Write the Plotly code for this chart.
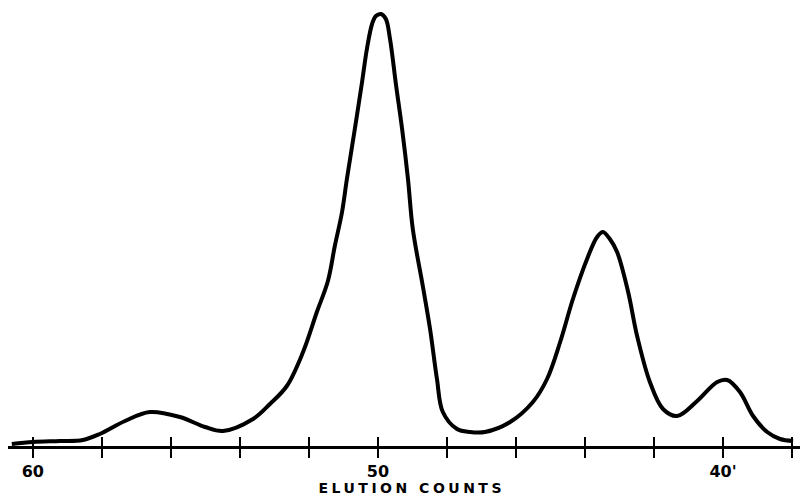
import plotly.graph_objects as go

# Elution counts (x, reversed axis) and detector response (relative units)
elution_counts = [60.61, 60.00, 59.22, 58.55, 58.06, 57.33, 56.61, 55.74, 55.01, 54.49,
                  53.62, 53.13, 52.64, 52.17, 51.77, 51.45, 51.25, 51.04, 50.90, 50.67,
                  50.46, 50.32, 50.17, 50.06, 49.91, 49.77, 49.65, 49.48, 49.30, 49.13,
                  48.99, 48.70, 48.49, 48.29, 48.12, 47.71, 47.33, 46.90, 46.17, 45.51,
                  45.10, 44.72, 44.35, 43.94, 43.65, 43.48, 43.28, 43.07, 42.75, 42.49,
                  42.12, 41.74, 41.33, 40.75, 40.17, 39.88, 39.51, 39.13, 38.72, 38.35,
                  37.97]
response = [1, 3, 4, 5, 11, 24, 33, 28, 18, 14,
            26, 41, 59, 93, 133, 164, 199, 233, 266, 316,
            363, 396, 421, 429, 431, 426, 406, 361, 316, 266,
            216, 159, 116, 66, 33, 16, 13, 13, 23, 43,
            66, 103, 146, 186, 208, 213, 206, 193, 153, 109,
            63, 36, 29, 44, 63, 65, 53, 29, 13, 6,
            4]

tick_values = [60, 58, 56, 54, 52, 50, 48, 46, 44, 42, 40, 38]
tick_labels = ["60", "", "", "", "", "50", "", "", "", "", "40'", ""]
axis_title = "ELUTION COUNTS"

fig = go.Figure()
fig.add_trace(go.Scatter(
    x=elution_counts, y=response, mode="lines",
    line=dict(color="black", width=4, shape="spline", smoothing=1.0),
    hoverinfo="skip", showlegend=False,
))
# invisible helper trace so the overlaying axis (inner tick half) is drawn
fig.add_trace(go.Scatter(
    x=elution_counts, y=response, mode="lines", xaxis="x2",
    line=dict(color="rgba(0,0,0,0)", width=0),
    hoverinfo="skip", showlegend=False,
))

font_family = "DejaVu Sans, Liberation Sans, sans-serif"
x_range = [60.72, 37.77]

fig.update_layout(
    width=800, height=497,
    margin=dict(l=8, r=0, t=10, b=51),
    paper_bgcolor="white", plot_bgcolor="white",
    showlegend=False,
    xaxis=dict(
        range=x_range, showgrid=False, zeroline=False,
        showline=True, linecolor="black", linewidth=3,
        tickmode="array", tickvals=tick_values, ticktext=tick_labels,
        ticks="outside", ticklen=9, tickwidth=2, tickcolor="black",
        tickfont=dict(family=font_family, size=16, color="black", weight="bold"),
    ),
    xaxis2=dict(
        range=x_range, overlaying="x", anchor="y", side="bottom",
        showgrid=False, zeroline=False, showline=False,
        tickmode="array", tickvals=tick_values, showticklabels=False,
        ticks="inside", ticklen=9, tickwidth=2, tickcolor="black",
    ),
    yaxis=dict(range=[-1, 435], visible=False, showgrid=False, zeroline=False),
    annotations=[dict(
        text=axis_title, xref="x", x=49.0, yref="paper", y=0,
        yanchor="middle", yshift=-42, showarrow=False, borderpad=0,
        font=dict(family=font_family, size=14, color="black", weight="bold"),
    )],
)

post = (
    "document.body.style.margin='0';"
    "document.body.style.overflow='hidden';"
    "document.querySelectorAll('.annotation-text').forEach(function(e){e.style.letterSpacing='3.5px';});"
)
fig.write_html("out.html", post_script=post, config={"displayModeBar": False})
